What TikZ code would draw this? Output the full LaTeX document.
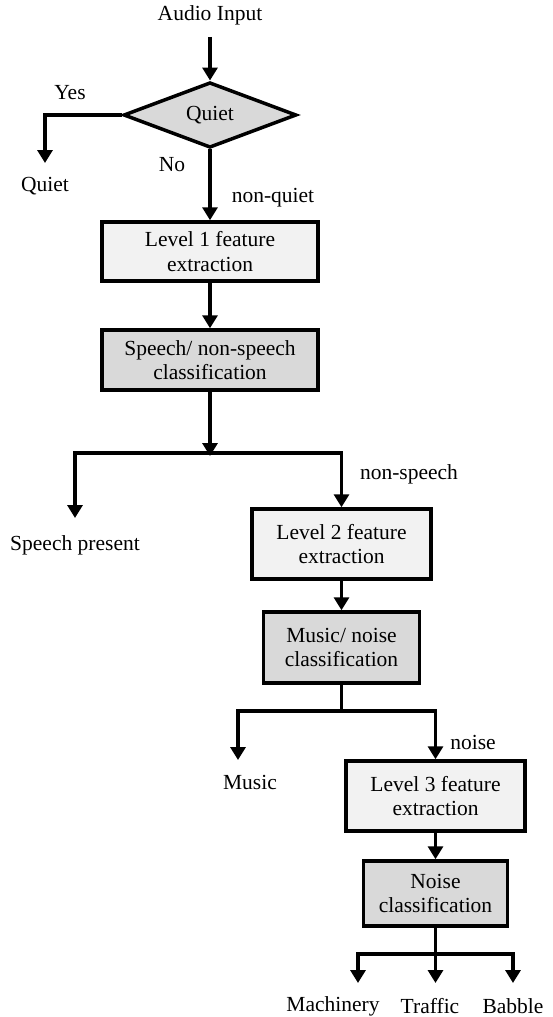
\documentclass[tikz,border=0pt]{standalone}
\usepackage{fontspec}
\setmainfont{Liberation Serif}
\usepackage{tikz}
\usetikzlibrary{arrows.meta,shapes.geometric}
\usepackage{xcolor}
\definecolor{boxlight}{HTML}{F2F2F2}
\definecolor{boxdark}{HTML}{D9D9D9}

\begin{document}
\begin{tikzpicture}[
  x=1pt,y=-1pt,
  txt/.style={inner sep=0pt,font=\fontsize{21.5}{24.5}\selectfont},
  stage/.style={draw,line width=3.5pt,inner sep=0pt,align=center,
    font=\fontsize{21.5}{24.5}\selectfont,minimum width=#1},
  lightbox/.style={stage=#1,fill=boxlight,minimum height=66pt},
  darkbox/.style={stage=#1,fill=boxdark,minimum height=66pt},
  decision/.style={diamond,draw,line width=3.5pt,fill=boxdark,inner sep=0pt,
    minimum width=173pt,minimum height=63pt,font=\fontsize{21.5}{24.5}\selectfont},
  arr/.style={line width=3.8pt,-{Triangle[width=15pt,length=13pt]}},
  ln/.style={line width=3.8pt}
  ]
\useasboundingbox (0,0) rectangle (552,1017);
\def\lvlw{179pt}
\node[txt] (input) at (210,15) {Audio Input};
\node[decision] (quiet) at (210,115) {Quiet};
\node[txt] (yes) at (70,93) {Yes};
\node[txt] (quietout) at (45,186) {Quiet};
\node[txt] (no) at (172,165) {No};
\node[txt] (nonquiet) at (273,198) {non-quiet};
\node[lightbox=216pt,minimum height=59pt] (lvl1) at (210,251.5) {Level 1 feature\\extraction};
\node[darkbox=216pt,minimum height=60pt] (sns) at (210,360) {Speech/ non-speech\\classification};
\node[txt] (speech) at (75,545) {Speech present};
\node[txt] (nonspeech) at (409,474) {non-speech};
\node[lightbox=\lvlw,minimum height=70pt] (lvl2) at (341.5,544) {Level 2 feature\\extraction};
\node[darkbox=156pt,minimum height=71pt] (mn) at (341.5,647.5) {Music/ noise\\classification};
\node[txt] (music) at (250,782) {Music};
\node[txt] (noise) at (473,742) {noise};
\node[lightbox=\lvlw,minimum height=70pt] (lvl3) at (435.5,796) {Level 3 feature\\extraction};
\node[darkbox=144pt,minimum height=65pt] (noisecls) at (435.5,893.5) {Noise\\classification};
\node[txt] (machinery) at (333,1006) {Machinery};
\node[txt] (traffic) at (430,1006) {Traffic};
\node[txt] (babble) at (513,1006) {Babble};

\coordinate (quiettip) at (45,163);
\coordinate (split1) at (210,453);
\coordinate (speechtip) at (75,518);
\coordinate (split2) at (341.5,711);
\coordinate (musictip) at (238,760);
\coordinate (split3) at (435.5,954);
\coordinate (machtip) at (358,983);
\coordinate (traftip) at (435.5,983);
\coordinate (babtip) at (513,983);

\draw[arr,shorten <=12pt] (input.south) -- (quiet.north);
\draw[arr] (quiet.west) -| (quiettip);
\draw[arr] (quiet.south) -- (lvl1.north);
\draw[arr] (lvl1.south) -- (sns.north);
\draw[arr] (sns.south) -- ([yshift=-3pt]split1);
\draw[arr] (split1) -| (speechtip);
\draw[arr] (split1) -| (lvl2.north);
\draw[arr] (lvl2.south) -- (mn.north);
\draw[ln] (mn.south) -- (split2);
\draw[arr] (split2) -| (musictip);
\draw[arr] (split2) -| (lvl3.north);
\draw[arr] (lvl3.south) -- (noisecls.north);
\draw[ln] (noisecls.south) -- (split3);
\draw[arr] (split3) -| (machtip);
\draw[arr] (split3) -- (traftip);
\draw[arr] (split3) -| (babtip);
\end{tikzpicture}
\end{document}
